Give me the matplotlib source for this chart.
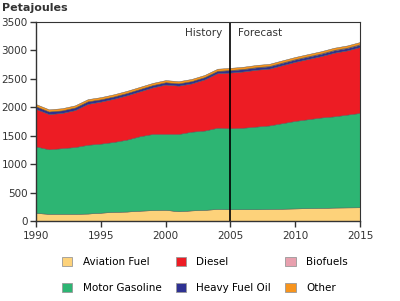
import numpy as np
import matplotlib.pyplot as plt
from matplotlib.patches import Patch

years = list(range(1990, 2016))
aviation = [140, 125, 125, 125, 130, 145, 160, 165, 180, 190, 195, 170, 185, 195, 210,
            205, 205, 205, 210, 215, 220, 225, 230, 235, 238, 240]
gasoline_top = [1310, 1260, 1280, 1300, 1340, 1360, 1390, 1430, 1490, 1530, 1530, 1530, 1570,
                1590, 1640, 1630, 1640, 1660, 1680, 1720, 1760, 1790, 1820, 1840, 1870, 1900]
diesel_top = [1970, 1880, 1900, 1950, 2060, 2100, 2150, 2210, 2280, 2350, 2400, 2380, 2420,
              2490, 2600, 2610, 2630, 2660, 2680, 2740, 2800, 2850, 2900, 2960, 3000, 3060]
hfo = [45, 45, 45, 45, 45, 40, 40, 40, 40, 40, 40, 40, 40, 40, 40,
       40, 40, 40, 40, 40, 40, 40, 40, 40, 40, 40]
biofuels = [0, 0, 0, 0, 0, 0, 0, 0, 0, 0, 0, 0, 0, 0, 0,
            5, 5, 6, 6, 7, 7, 8, 8, 9, 9, 10]
other = [40, 38, 38, 38, 38, 38, 38, 38, 38, 38, 38, 38, 38, 38, 38,
         38, 38, 38, 38, 38, 38, 38, 38, 38, 38, 38]

gasoline = [g - a for g, a in zip(gasoline_top, aviation)]
diesel = [d - g for d, g in zip(diesel_top, gasoline_top)]

names = ['Aviation Fuel', 'Motor Gasoline', 'Diesel', 'Heavy Fuel Oil', 'Biofuels', 'Other']
colors = ['#FDD27A', '#2DB573', '#ED1C24', '#2E3192', '#E8A0AE', '#F7941D']

fig = plt.figure(figsize=(4, 3.01), dpi=100)
ax = fig.add_axes([0.09, 0.266, 0.81, 0.661])

ax.stackplot(years, aviation, gasoline, diesel, hfo, biofuels, other,
             colors=colors, linewidth=0.3, edgecolor='#555555')

ax.set_xlim(1990, 2015)
ax.set_ylim(0, 3500)
ax.set_xticks([1990, 1995, 2000, 2005, 2010, 2015])
ax.set_yticks(np.arange(0, 3501, 500))
ax.tick_params(labelsize=7.5, color='#333333', labelcolor='#333333', length=4, width=1)
ax.tick_params(axis='y', pad=2)
for s in ax.spines.values():
    s.set_linewidth(1)
    s.set_color('#333333')
ax.spines['top'].set_linewidth(0.8)
ax.spines['right'].set_linewidth(0.8)

ax.axvline(2005, color='black', linewidth=1.2)
ax.text(2004.4, 3300, 'History', ha='right', va='center', fontsize=7.5, color='#333333')
ax.text(2005.6, 3300, 'Forecast', ha='left', va='center', fontsize=7.5, color='#333333')

fig.text(0.005, 0.975, 'Petajoules', fontsize=8, fontweight='bold', color='#333333',
         ha='left', va='center')

handles = [Patch(facecolor=c, edgecolor='#999999', linewidth=0.6) for c in colors]
fig.legend(handles, names, ncol=3, loc='center left', bbox_to_anchor=(0.155, 0.086),
           frameon=False, fontsize=7.5, handlelength=1.0, handleheight=1.0,
           handletextpad=1.0, columnspacing=1.35, labelspacing=1.5, borderpad=0,
           borderaxespad=0)

fig.savefig('out.png', dpi=100)
